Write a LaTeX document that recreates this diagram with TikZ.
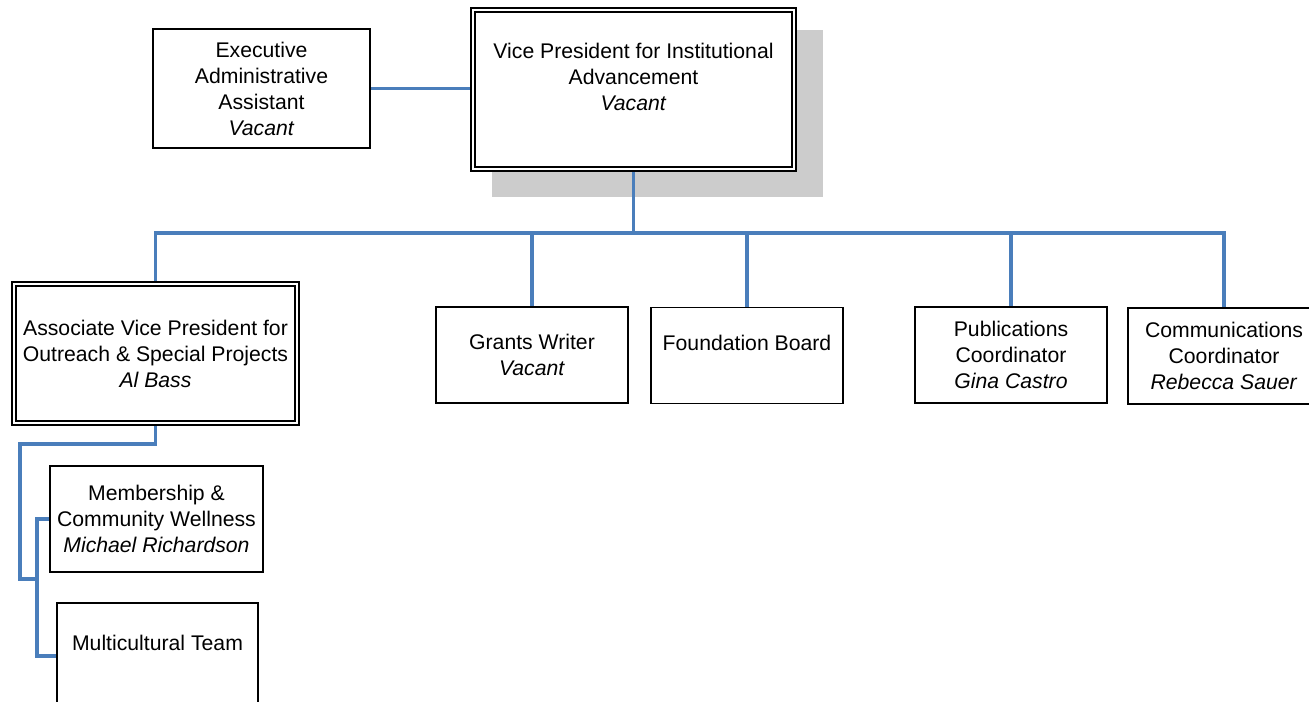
\documentclass[tikz,border=0pt]{standalone}
\usepackage{fontspec}
\setmainfont{Liberation Sans}
\usepackage{tikz}
\usetikzlibrary{positioning,calc,backgrounds}
\definecolor{linkblue}{HTML}{4A7EBB}

\begin{document}
\begin{tikzpicture}[
    x=0.75pt, y=-0.75pt,
    box/.style={draw, fill=white, line width=1.3pt, rectangle, align=center, inner sep=0pt,
        font=\fontsize{15.9}{19.5}\selectfont},
    headbox/.style={box, double, double distance=1.5pt, line width=1.3pt},
    smallbox/.style={box, minimum width=144pt, minimum height=72pt},
    link/.style={draw=linkblue, line width=2.3pt}
]
    \useasboundingbox (0,0) rectangle (1309,701);

    % Top
    \node[headbox, minimum width=240.75pt, minimum height=119.25pt] (vp) at (633.5,89.5)
        {Vice President for Institutional\\ Advancement\\ \textit{Vacant}\\ ~};
    \node[box, minimum width=162.75pt, minimum height=89.25pt] (exec) at (261.5,88.5)
        {Executive\\ Administrative\\ Assistant\\ \textit{Vacant}};

    % Second row
    \node[headbox, minimum width=212.25pt, minimum height=104.25pt] (avp) at (155.5,353.5)
        {Associate Vice President for\\ Outreach \& Special Projects\\ \textit{Al Bass}};
    \node[smallbox] (grants) at (532,355) {Grants Writer\\ \textit{Vacant}};
    \node[smallbox] (found) at (747,355.5) {Foundation Board\\ ~};
    \node[smallbox] (pub) at (1011,355) {Publications\\ Coordinator\\ \textit{Gina Castro}};
    \node[smallbox] (comm) at (1224,356) {Communications\\ Coordinator\\ \textit{Rebecca Sauer}};

    % Outreach staff
    \node[box, minimum width=159.75pt, minimum height=79.5pt] (memb) at (156.5,519)
        {Membership \&\\ Community Wellness\\ \textit{Michael Richardson}};
    \node[box, minimum width=150.75pt, minimum height=79.5pt] (multi) at (157.5,656)
        {Multicultural Team\\ ~};

    \coordinate (bus) at (633,233);
    \coordinate (lane) at (20,444);
    \coordinate (spine) at (37,579);

    \begin{scope}[on background layer]
        % Shadow
        \fill[black!20] ([shift={(20,21)}]vp.north west) rectangle ([shift={(28,27)}]vp.south east);

        % Connectors
        \draw[link] (exec.east) -- (exec.east -| vp.west);
        \draw[link] (vp.south) -- (vp.south |- bus);
        \draw[link] (vp.south |- bus) -| (avp.north);
        \draw[link] (vp.south |- bus) -| (grants.north);
        \draw[link] (vp.south |- bus) -| (found.north);
        \draw[link] (vp.south |- bus) -| (pub.north);
        \draw[link] (vp.south |- bus) -| (comm.north);
        \draw[link] (avp.south) |- (lane) |- (spine);
        \draw[link] (memb.west) -| (spine) |- (multi.west);
    \end{scope}
\end{tikzpicture}
\end{document}
